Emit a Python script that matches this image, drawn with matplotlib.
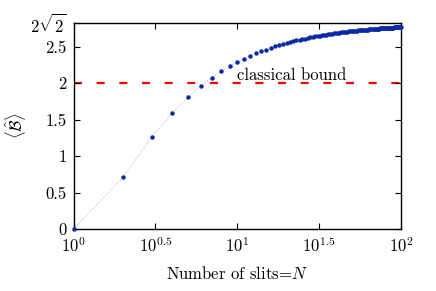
import numpy as np
import matplotlib
matplotlib.use("Agg")
import matplotlib.pyplot as plt

plt.rcParams["font.family"] = "serif"
plt.rcParams["font.serif"] = ["cmr10"]
plt.rcParams["mathtext.fontset"] = "cm"
plt.rcParams["axes.formatter.use_mathtext"] = True

# number of slits
slits = list(range(1, 101))

# <B>, one value per N
bell = [
    0.000, 0.707, 1.257, 1.591, 1.810, 1.964, 2.078, 2.166, 2.235, 2.291,
    2.338, 2.377, 2.410, 2.439, 2.464, 2.486, 2.506, 2.523, 2.539, 2.553,
    2.566, 2.577, 2.588, 2.598, 2.607, 2.615, 2.623, 2.630, 2.637, 2.643,
    2.649, 2.654, 2.660, 2.665, 2.669, 2.674, 2.678, 2.682, 2.685, 2.689,
    2.692, 2.695, 2.698, 2.701, 2.704, 2.707, 2.709, 2.712, 2.714, 2.716,
    2.719, 2.721, 2.723, 2.725, 2.727, 2.728, 2.730, 2.732, 2.733, 2.735,
    2.736, 2.738, 2.739, 2.741, 2.742, 2.743, 2.745, 2.746, 2.747, 2.748,
    2.749, 2.750, 2.752, 2.753, 2.754, 2.755, 2.755, 2.756, 2.757, 2.758,
    2.759, 2.760, 2.761, 2.762, 2.762, 2.763, 2.764, 2.765, 2.765, 2.766,
    2.767, 2.767, 2.768, 2.769, 2.769, 2.770, 2.770, 2.771, 2.772, 2.772,
]

classical = 2.0
quantum = 2 * np.sqrt(2)

xticks = [1, 10**0.5, 10, 10**1.5, 100]
xticklabels = [r"$10^{0}$", r"$10^{0.5}$", r"$10^{1}$", r"$10^{1.5}$", r"$10^{2}$"]
yticks = [0, 0.5, 1, 1.5, 2, 2.5, quantum]
yticklabels = ["0", "0.5", "1", "1.5", "2", "2.5", r"$2\sqrt{2}$"]

fig = plt.figure(figsize=(4.36, 2.91), dpi=100)
ax = fig.add_axes([0.1686, 0.2131, 0.7511, 0.7079])

ax.axhline(classical, color="#ff0000", lw=1.6, linestyle=(0, (3.6, 6.6)), zorder=1)
ax.plot(slits, bell, color="#8899ee", lw=0.6, linestyle=(0, (1, 2)), zorder=2)
ax.plot(slits, bell, "o", color="#0a2aa5", ms=3.2, mec="none", zorder=3, clip_on=False)

ax.text(10, 2.04, "classical bound", fontsize=12, va="baseline", ha="left")

ax.set_xscale("log")
ax.set_xlim(1, 100)
ax.set_ylim(0, quantum)
ax.set_xticks(xticks)
ax.set_xticklabels(xticklabels)
ax.set_yticks(yticks)
ax.set_yticklabels(yticklabels)
ax.minorticks_off()
ax.tick_params(direction="in", length=4, width=0.8, top=True, right=True,
               labelsize=12, pad=5)
for s in ax.spines.values():
    s.set_linewidth(1.0)

ax.set_xlabel(r"Number of slits=$N$", fontsize=12)
ax.set_ylabel(r"$\langle\hat{\mathcal{B}}\rangle$", fontsize=12)
ax.xaxis.set_label_coords(0.5, -0.175)
ax.yaxis.set_label_coords(-0.139, 0.5)

fig.savefig("out.png", dpi=100)
